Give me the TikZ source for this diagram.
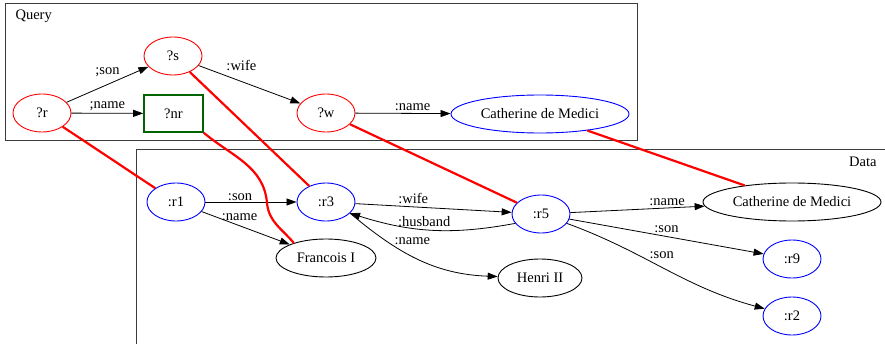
\documentclass[tikz,border=0pt]{standalone}
\usepackage{fontspec}
\setmainfont{Liberation Serif}
\usepackage{xcolor}
\usepackage{tikz}
\definecolor{matchred}{RGB}{255,0,0}
\definecolor{resblue}{RGB}{0,0,255}
\definecolor{vargreen}{RGB}{0,100,0}
\definecolor{framegray}{RGB}{60,60,60}
\usetikzlibrary{shapes.geometric,arrows.meta}

\begin{document}
\begin{tikzpicture}[x=1pt, y=1pt,
    font=\fontsize{14.5pt}{17pt}\selectfont,
    frame/.style={draw=framegray, line width=1pt},
    var/.style={ellipse, draw=matchred, line width=0.9pt, minimum width=58pt, minimum height=38pt, inner sep=3pt},
    res/.style={ellipse, draw=resblue, line width=0.9pt, minimum width=58pt, minimum height=38pt, inner sep=3pt},
    lit/.style={ellipse, draw=black, line width=0.9pt, minimum height=38pt, inner sep=3pt},
    rel/.style={draw=black, line width=0.8pt, -{Triangle[length=10pt,width=7pt]}},
    lbl/.style={inner sep=1pt},
    match/.style={draw=matchred, line width=2.2pt}]
    \useasboundingbox (0,0) rectangle (885,343);

    % Query frame
    \draw[frame] (5,202) rectangle (637,339);
    \node[anchor=west] (qtitle) at (12,327) {Query};
    % Data frame
    \draw[frame] (136,-2) |- (887,193);
    \node[anchor=east] (dtitle) at (880,181) {Data};

    % Query pattern
    \node[var] (r) at (42,230) {?r};
    \node[var] (s) at (173,287) {?s};
    \node[draw=vargreen, line width=1.6pt, minimum width=59pt, minimum height=37pt] (nr) at (173.5,229.5) {?nr};
    \node[var] (w) at (326,230) {?w};
    \node[lit, draw=resblue, minimum width=178pt] (cq) at (540,229) {Catherine de Medici};

    \draw[rel] (r) -- node[lbl, midway, above=6pt] {;son} (s);
    \draw[rel] (r) -- node[lbl, midway, above=1pt] {;name} (nr);
    \draw[rel] (s) -- node[lbl, pos=0.42, above=9pt] {:wife} (w);
    \draw[rel] (w) -- node[lbl, pos=0.6, above=1pt] {:name} (cq);

    % Data graph
    \node[res] (r1) at (176,141) {:r1};
    \node[res] (r3) at (326,141) {:r3};
    \node[res] (r5) at (541,129) {:r5};
    \node[lit, minimum width=100pt] (fi) at (326,85) {Francois I};
    \node[lit, minimum width=84pt] (h2) at (540,65) {Henri II};
    \node[lit, minimum width=178pt] (cd) at (792,141) {Catherine de Medici};
    \node[res] (r9) at (792,84) {:r9};
    \node[res] (r2) at (792,27) {:r2};

    \draw[rel] (r1) -- node[lbl, pos=0.38, above=0pt] {:son} (r3);
    \draw[rel] (r1) -- node[lbl, pos=0.43, above=4pt] {:name} (fi);
    \draw[rel] (r3) -- node[lbl, pos=0.37, above=2pt] {:wife} (r5);
    \draw[rel] (r5.200) to[bend left=14] node[lbl, pos=0.55, above=1pt] {:husband} (r3.-25);
    \draw[rel] (r3.-25) to[out=-40, in=178] node[lbl, pos=0.27, right=6pt] {:name} (h2);
    \draw[rel] (r5) -- node[lbl, pos=0.72, above=1pt] {:name} (cd);
    \draw[rel] (r5) -- node[lbl, pos=0.5, above=2pt] {:son} (r9);
    \draw[rel] (r5) to[out=-20, in=165] node[lbl, pos=0.35, right=10pt] {:son} (r2);

    % Matching lines
    \coordinate (kink) at (267,140);
    \draw[match] (r) -- (r1);
    \draw[match] (nr.south east) to[out=-40, in=95] (kink) to[out=-85, in=130] (fi.155);
    \draw[match] (s) -- (r3);
    \draw[match] (w) -- (r5);
    \draw[match] (cq) -- (cd);
\end{tikzpicture}
\end{document}
